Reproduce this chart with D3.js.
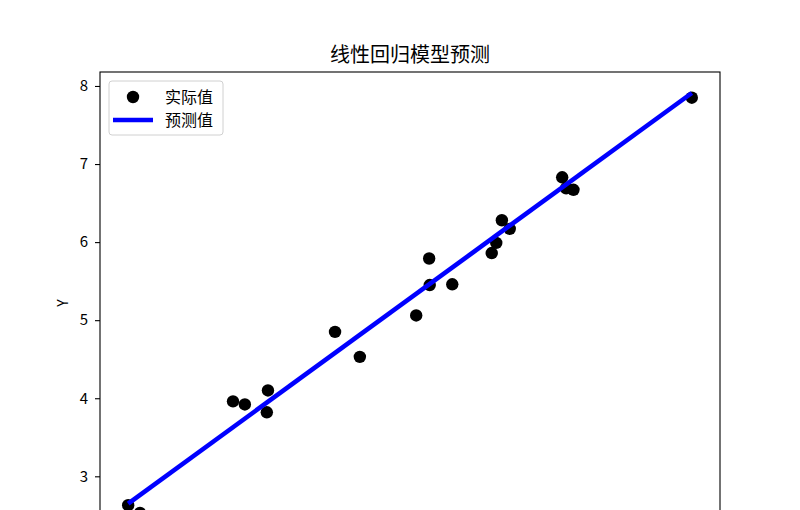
<!DOCTYPE html>
<html>
<head>
<meta charset="utf-8">
<script src="https://cdn.jsdelivr.net/npm/d3@7"></script>
<style>
  body { margin: 0; background: #fff; overflow: hidden; }
  svg text { font-family: "Noto Sans CJK SC", "DejaVu Sans", sans-serif; }
</style>
</head>
<body>
<svg id="chart"></svg>
<script>
// 散点数据
const xActual = [0.00, 0.21, 1.86, 2.07, 2.48, 2.46, 3.67, 4.11, 5.11, 5.34,
                 5.35, 5.75, 6.45, 6.53, 6.63, 6.77, 7.70, 7.77, 7.90, 10.00];
const yActual = [2.63, 2.53, 3.96, 3.92, 4.10, 3.82, 4.85, 4.53, 5.06, 5.79,
                 5.45, 5.46, 5.86, 5.99, 6.28, 6.17, 6.83, 6.69, 6.67, 7.85];
// 回归线两端的预测值
const xPred = [0.00, 10.00];
const yPred = [2.65, 7.91];
const yTicks = [3, 4, 5, 6, 7, 8];
const xTicks = [0, 2, 4, 6, 8, 10];
const labels = { title: "线性回归模型预测", x: "X", y: "Y", actual: "实际值", pred: "预测值" };

// 图的下半部分（X 轴）在窗口之外，与参考图一样被裁掉
const W = 800, H = 600;
const margin = { top: 72, right: 80, bottom: 66, left: 100 };
const width = W - margin.left - margin.right;
const height = H - margin.top - margin.bottom;

const svg = d3.select("#chart").attr("width", W).attr("height", H);
const g = svg.append("g").attr("transform", `translate(${margin.left},${margin.top})`);

// 类似 matplotlib 的 5% 边距
function padded(vals) {
  const [lo, hi] = d3.extent(vals);
  const m = (hi - lo) * 0.05;
  return [lo - m, hi + m];
}
const x = d3.scaleLinear().domain(padded(xActual.concat(xPred))).range([0, width]);
const y = d3.scaleLinear().domain(padded(yActual.concat(yPred))).range([height, 0]);

const points = xActual.map((d, i) => ({ x: d, y: yActual[i] }));
const predLine = xPred.map((d, i) => ({ x: d, y: yPred[i] }));

// 散点
g.selectAll("circle.pt")
  .data(points)
  .enter()
  .append("circle")
  .attr("class", "pt")
  .attr("cx", (d) => x(d.x))
  .attr("cy", (d) => y(d.y))
  .attr("r", 6.2)
  .attr("fill", "#000");

// 回归线
const line = d3.line().x((d) => x(d.x)).y((d) => y(d.y));
g.append("path")
  .datum(predLine)
  .attr("d", line)
  .attr("fill", "none")
  .attr("stroke", "#0000ff")
  .attr("stroke-width", 4.6);

// 坐标轴
const yAxis = g.append("g")
  .call(d3.axisLeft(y).tickValues(yTicks).tickFormat(d3.format("d")).tickSize(5).tickPadding(7));
const xAxis = g.append("g")
  .attr("transform", `translate(0,${height})`)
  .call(d3.axisBottom(x).tickValues(xTicks).tickFormat(d3.format("d")).tickSize(5).tickPadding(5));
[xAxis, yAxis].forEach((a) => {
  a.select(".domain").remove();
  a.selectAll("line").attr("stroke", "#000").attr("stroke-width", 1.1);
  a.selectAll("text").attr("fill", "#000").style("font-size", "15px");
});

// 边框
g.append("rect")
  .attr("width", width)
  .attr("height", height)
  .attr("fill", "none")
  .attr("stroke", "#000")
  .attr("stroke-width", 1.1);

// 标题和轴标题
svg.append("text")
  .attr("x", margin.left + width / 2)
  .attr("y", 62)
  .attr("text-anchor", "middle")
  .style("font-size", "20px")
  .text(labels.title);

svg.append("text")
  .attr("transform", `translate(68,${margin.top + height / 2}) rotate(-90)`)
  .attr("text-anchor", "middle")
  .style("font-size", "14px")
  .text(labels.y);

svg.append("text")
  .attr("x", margin.left + width / 2)
  .attr("y", H - 14)
  .attr("text-anchor", "middle")
  .style("font-size", "14px")
  .text(labels.x);

// 图例
const legend = g.append("g").attr("transform", "translate(9,9)");
legend.append("rect")
  .attr("width", 114)
  .attr("height", 54)
  .attr("rx", 3)
  .attr("fill", "#fff")
  .attr("fill-opacity", 0.8)
  .attr("stroke", "#d0d0d0");
legend.append("circle").attr("cx", 24).attr("cy", 16).attr("r", 6.2).attr("fill", "#000");
legend.append("line")
  .attr("x1", 4).attr("x2", 44)
  .attr("y1", 39).attr("y2", 39)
  .attr("stroke", "#0000ff").attr("stroke-width", 4.6);
legend.append("text").attr("x", 56).attr("y", 16).attr("dy", "0.35em")
  .style("font-size", "16px").text(labels.actual);
legend.append("text").attr("x", 56).attr("y", 39).attr("dy", "0.35em")
  .style("font-size", "16px").text(labels.pred);
</script>
</body>
</html>
